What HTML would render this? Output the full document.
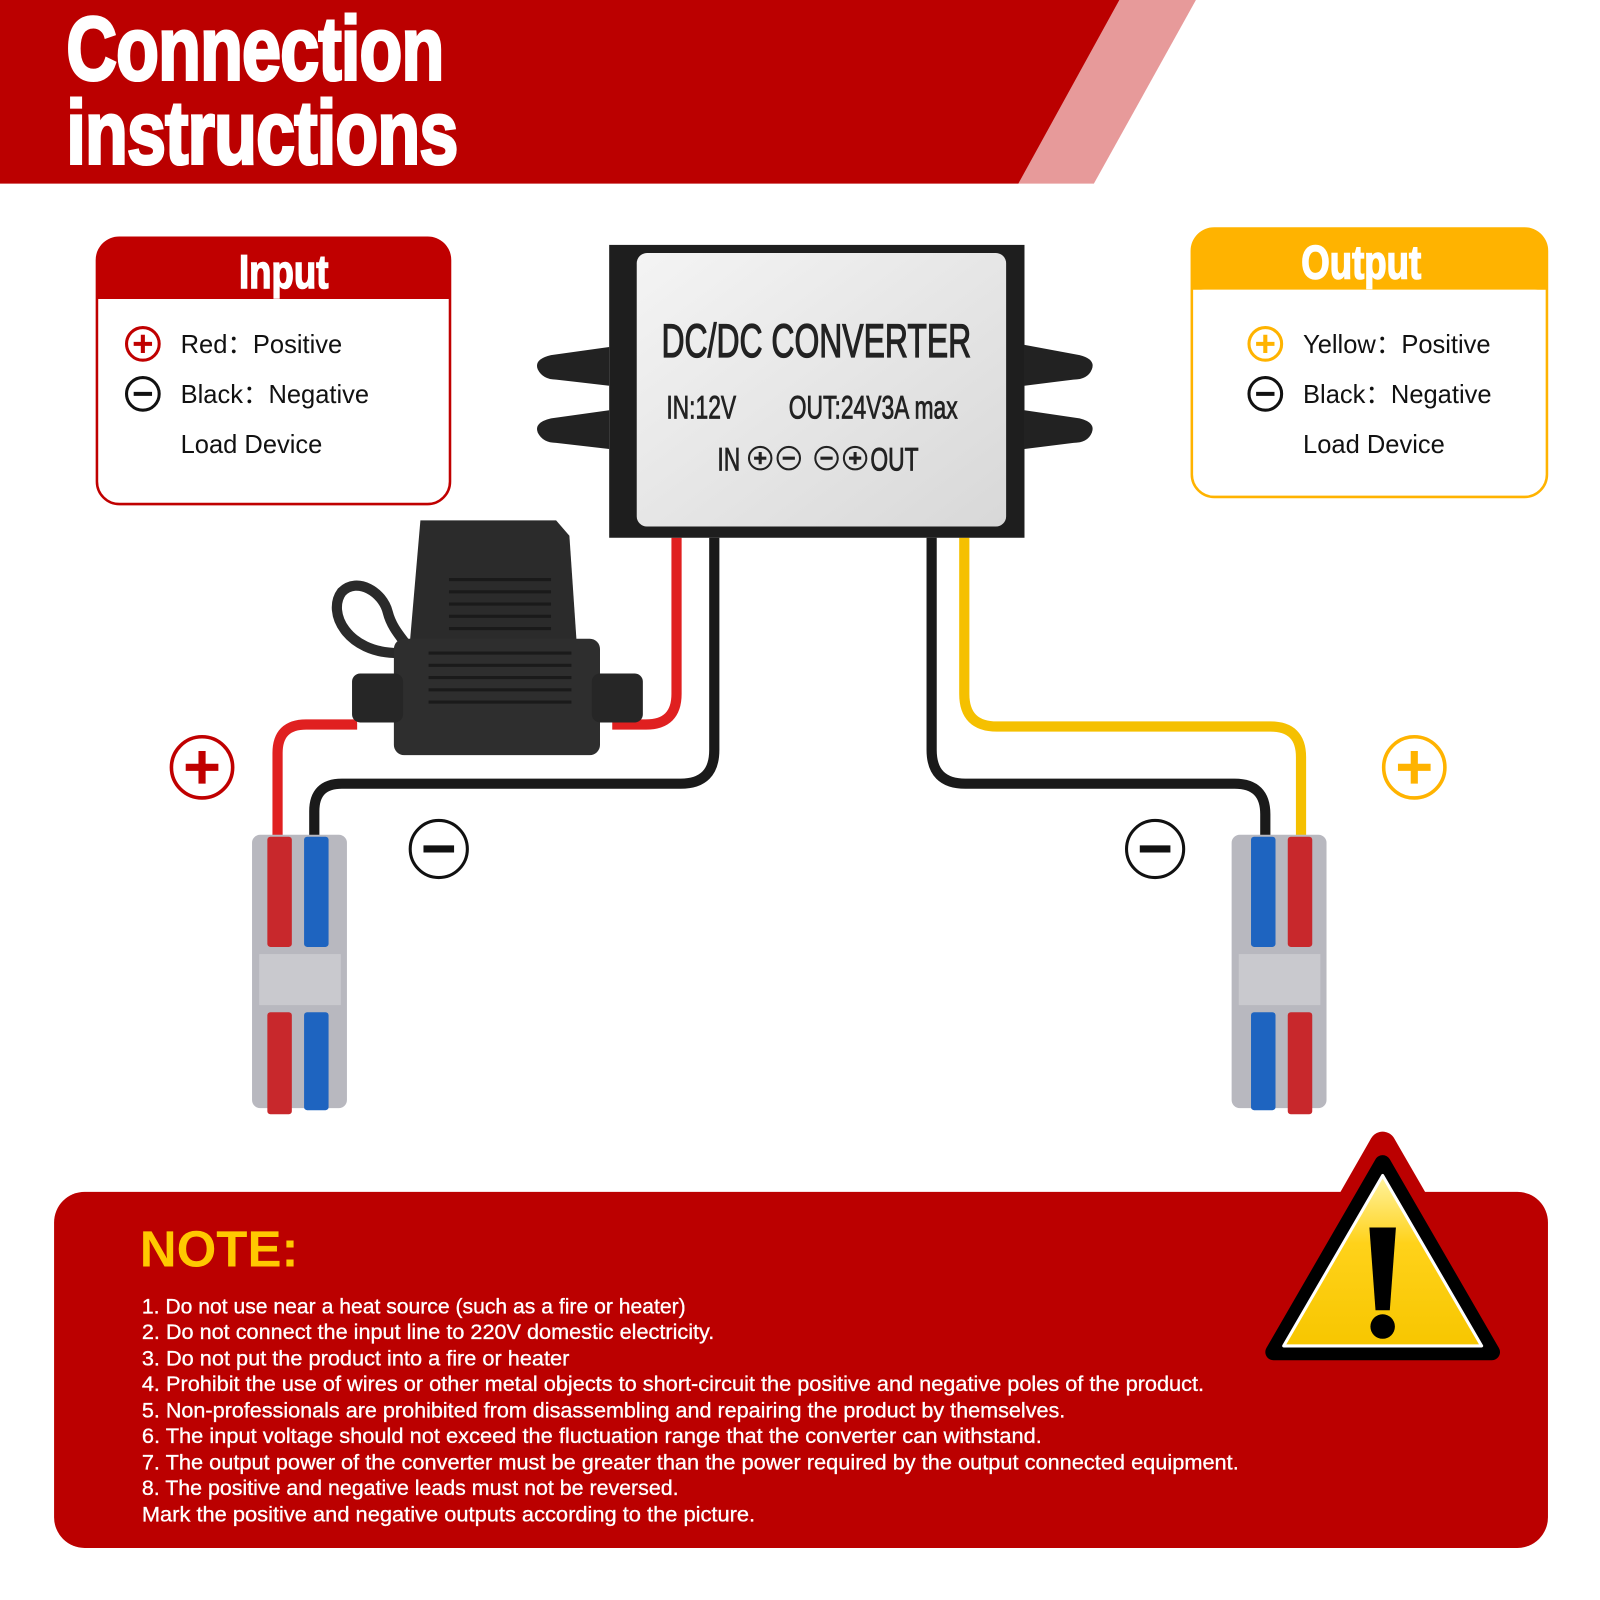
<!DOCTYPE html>
<html><head><meta charset="utf-8"><style>
html,body{margin:0;padding:0;background:#fff;}
svg{display:block;}
</style></head><body>
<svg width="1600" height="1600" viewBox="0 0 1568 1568" xmlns="http://www.w3.org/2000/svg" font-family="Liberation Sans, sans-serif">
<defs>
<linearGradient id="tri" x1="0" y1="0" x2="0" y2="1"><stop offset="0" stop-color="#fff3a0"/><stop offset="0.4" stop-color="#ffd21a"/><stop offset="1" stop-color="#f7c600"/></linearGradient>
<linearGradient id="lab" x1="0" y1="0" x2="1" y2="1"><stop offset="0" stop-color="#f4f4f4"/><stop offset="1" stop-color="#d8d8d8"/></linearGradient>
</defs>
<rect width="1568" height="1568" fill="#fff"/>
<!-- header -->
<polygon points="1172,0 1072,180 998,180 1097,0" fill="#e79a9a"/>
<polygon points="0,0 1097,0 998,180 0,180" fill="#bb0000"/>
<g transform="translate(65,78) scale(0.78,1)"><text x="0" y="0" font-size="88" font-weight="bold" fill="#fff" stroke="#fff" stroke-width="3" letter-spacing="-1">Connection</text></g>
<g transform="translate(65,160) scale(0.78,1)"><text x="0" y="0" font-size="88" font-weight="bold" fill="#fff" stroke="#fff" stroke-width="3" letter-spacing="-1">instructions</text></g>

<!-- Input box -->
<rect x="95" y="233" width="346" height="261" rx="22" fill="#fff" stroke="#c00000" stroke-width="2.5"/>
<path d="M95,293 V255 Q95,233 117,233 H419 Q441,233 441,255 V293 Z" fill="#c00000"/>
<rect x="97" y="293" width="342" height="10" rx="10" fill="#fff"/>
<g transform="translate(278,282) scale(0.78,1)"><text x="0" y="0" font-size="46" font-weight="bold" fill="#fff" stroke="#fff" stroke-width="1.5" text-anchor="middle">Input</text></g>
<circle cx="140" cy="337" r="16" fill="#fff" stroke="#c00000" stroke-width="3"/>
<path d="M131,337h18M140,328v18" stroke="#c00000" stroke-width="4"/>
<circle cx="140" cy="386" r="16" fill="#fff" stroke="#111" stroke-width="3"/>
<path d="M131,386h18" stroke="#111" stroke-width="4"/>
<g font-size="25" fill="#111">
<text x="177" y="346">Red：Positive</text>
<text x="177" y="395">Black：Negative</text>
<text x="177" y="444">Load Device</text>
</g>

<!-- Output box -->
<rect x="1168" y="224" width="348" height="263" rx="22" fill="#fff" stroke="#ffb300" stroke-width="2.5"/>
<path d="M1168,284 V246 Q1168,224 1190,224 H1494 Q1516,224 1516,246 V284 Z" fill="#ffb300"/>
<rect x="1170" y="284" width="344" height="10" rx="10" fill="#fff"/>
<g transform="translate(1334,273) scale(0.78,1)"><text x="0" y="0" font-size="46" font-weight="bold" fill="#fff" stroke="#fff" stroke-width="1.5" text-anchor="middle">Output</text></g>
<circle cx="1240" cy="337" r="16" fill="#fff" stroke="#ffb300" stroke-width="3"/>
<path d="M1231,337h18M1240,328v18" stroke="#ffb300" stroke-width="4"/>
<circle cx="1240" cy="386" r="16" fill="#fff" stroke="#111" stroke-width="3"/>
<path d="M1231,386h18" stroke="#111" stroke-width="4"/>
<g font-size="25" fill="#111">
<text x="1277" y="346">Yellow：Positive</text>
<text x="1277" y="395">Black：Negative</text>
<text x="1277" y="444">Load Device</text>
</g>

<!-- wires -->
<g fill="none" stroke-width="10" stroke-linejoin="round">
<path d="M700,527 V735 Q700,768 667,768 H335 Q308,768 308,795 V825" stroke="#1a1a1a"/>
<path d="M663,527 V680 Q663,710 633,710 H600" stroke="#e02020"/>
<path d="M350,710 H300 Q272,710 272,738 V825" stroke="#e02020"/>
<path d="M913,527 V735 Q913,768 946,768 H1210 Q1240,768 1240,798 V825" stroke="#1a1a1a"/>
<path d="M945,527 V680 Q945,712 977,712 H1245 Q1275,712 1275,742 V825" stroke="#f5c000"/>
</g>

<!-- fuse -->
<path d="M390,640 C340,640 320,600 335,580 C350,565 375,580 380,600 C385,620 400,630 410,650" fill="none" stroke="#2a2a2a" stroke-width="10"/>
<path d="M412,510 H545 L558,525 L568,672 H398 Z" fill="#2b2b2b"/>
<g stroke="#1a1a1a" stroke-width="3"><path d="M440,568h100M440,580h100M440,592h100M440,604h100M440,616h100"/></g>
<rect x="386" y="626" width="202" height="114" rx="10" fill="#2e2e2e"/>
<rect x="345" y="660" width="50" height="48" rx="8" fill="#262626"/>
<rect x="580" y="660" width="50" height="48" rx="8" fill="#262626"/>
<g stroke="#1a1a1a" stroke-width="3"><path d="M420,640h140M420,652h140M420,664h140M420,676h140M420,688h140"/></g>

<!-- converter -->
<path d="M597,340 L540,348 Q523,352 527,362 Q532,372 545,372 L597,378 Z" fill="#222"/>
<path d="M597,402 L540,410 Q523,414 527,424 Q532,434 545,434 L597,440 Z" fill="#222"/>
<path d="M1004,338 L1058,348 Q1074,352 1070,362 Q1066,372 1052,372 L1004,378 Z" fill="#222"/>
<path d="M1004,402 L1058,410 Q1074,414 1070,424 Q1066,434 1052,434 L1004,440 Z" fill="#222"/>
<rect x="597" y="240" width="407" height="287" fill="#1e1e1e"/>
<rect x="624" y="248" width="362" height="268" rx="10" fill="url(#lab)"/>
<g fill="#222" stroke="#222">
<g transform="translate(800,350) scale(0.68,1)"><text x="0" y="0" font-size="46" text-anchor="middle" stroke-width="1.2">DC/DC CONVERTER</text></g>
<g transform="translate(653,410) scale(0.7,1)"><text x="0" y="0" font-size="32" stroke-width="0.8">IN:12V</text></g>
<g transform="translate(773,410) scale(0.7,1)"><text x="0" y="0" font-size="32" stroke-width="0.8">OUT:24V3A max</text></g>
<g transform="translate(703,461) scale(0.7,1)"><text x="0" y="0" font-size="32" stroke-width="0.8">IN</text></g>
<g transform="translate(853,461) scale(0.7,1)"><text x="0" y="0" font-size="32" stroke-width="0.8">OUT</text></g>
</g>
<g fill="none" stroke="#222" stroke-width="2">
<circle cx="745" cy="449" r="11"/><circle cx="773" cy="449" r="11"/><circle cx="810" cy="449" r="11"/><circle cx="838" cy="449" r="11"/>
<path d="M739,449h12M745,443v12M767,449h12M804,449h12M832,449h12M838,443v12" stroke-width="3"/>
</g>

<!-- connectors -->
<rect x="247" y="818" width="93" height="268" rx="8" fill="#b8b8bf"/>
<rect x="254" y="935" width="80" height="50" fill="#c9c9ce"/>
<rect x="262" y="820" width="24" height="108" rx="3" fill="#c8282c"/>
<rect x="298" y="820" width="24" height="108" rx="3" fill="#1e64c0"/>
<rect x="262" y="992" width="24" height="100" rx="3" fill="#c8282c"/>
<rect x="298" y="992" width="24" height="96" rx="3" fill="#1e64c0"/>
<rect x="1207" y="818" width="93" height="268" rx="8" fill="#b8b8bf"/>
<rect x="1214" y="935" width="80" height="50" fill="#c9c9ce"/>
<rect x="1226" y="820" width="24" height="108" rx="3" fill="#1e64c0"/>
<rect x="1262" y="820" width="24" height="108" rx="3" fill="#c8282c"/>
<rect x="1226" y="992" width="24" height="96" rx="3" fill="#1e64c0"/>
<rect x="1262" y="992" width="24" height="100" rx="3" fill="#c8282c"/>

<!-- symbols -->
<circle cx="198" cy="752" r="30" fill="#fff" stroke="#c00000" stroke-width="3.5"/>
<path d="M182,752h32M198,736v32" stroke="#c00000" stroke-width="7"/>
<circle cx="430" cy="832" r="28" fill="#fff" stroke="#111" stroke-width="3"/>
<path d="M415,832h30" stroke="#111" stroke-width="7"/>
<circle cx="1132" cy="832" r="28" fill="#fff" stroke="#111" stroke-width="3"/>
<path d="M1117,832h30" stroke="#111" stroke-width="7"/>
<circle cx="1386" cy="752" r="30" fill="#fff" stroke="#ffb300" stroke-width="3.5"/>
<path d="M1370,752h32M1386,736v32" stroke="#ffb300" stroke-width="7"/>

<!-- note panel -->
<rect x="53" y="1168" width="1464" height="349" rx="30" fill="#bb0000"/>
<path d="M1355,1122 L1475,1330 Q1480,1340 1468,1340 L1242,1340 Q1230,1340 1236,1330 Z" fill="#bb0000" stroke="#bb0000" stroke-width="26" stroke-linejoin="round"/>
<path d="M1355,1140 L1462,1325 L1248,1325 Z" fill="url(#tri)" stroke="#000" stroke-width="16" stroke-linejoin="round"/>
<path d="M1355,1152 L1452,1319 L1258,1319 Z" fill="url(#tri)" stroke="#fff" stroke-width="3" stroke-linejoin="round"/>
<path d="M1342,1203 H1368 L1362,1284 H1348 Z" fill="#000"/>
<circle cx="1355" cy="1300" r="12" fill="#000"/>
<text x="137" y="1241" font-size="50" font-weight="bold" fill="#ffc800">NOTE:</text>
<g font-size="20.5" fill="#fff" stroke="#fff" stroke-width="0.3">
<text x="139" y="1287" textLength="533" lengthAdjust="spacingAndGlyphs">1. Do not use near a heat source (such as a fire or heater)</text>
<text x="139" y="1312" textLength="561" lengthAdjust="spacingAndGlyphs">2. Do not connect the input line to 220V domestic electricity.</text>
<text x="139" y="1338" textLength="419" lengthAdjust="spacingAndGlyphs">3. Do not put the product into a fire or heater</text>
<text x="139" y="1363" textLength="1041" lengthAdjust="spacingAndGlyphs">4. Prohibit the use of wires or other metal objects to short-circuit the positive and negative poles of the product.</text>
<text x="139" y="1389" textLength="905" lengthAdjust="spacingAndGlyphs">5. Non-professionals are prohibited from disassembling and repairing the product by themselves.</text>
<text x="139" y="1414" textLength="882" lengthAdjust="spacingAndGlyphs">6. The input voltage should not exceed the fluctuation range that the converter can withstand.</text>
<text x="139" y="1440" textLength="1075" lengthAdjust="spacingAndGlyphs">7. The output power of the converter must be greater than the power required by the output connected equipment.</text>
<text x="139" y="1465" textLength="526" lengthAdjust="spacingAndGlyphs">8. The positive and negative leads must not be reversed.</text>
<text x="139" y="1491" textLength="601" lengthAdjust="spacingAndGlyphs">Mark the positive and negative outputs according to the picture.</text>
</g>
</svg>
</body></html>
